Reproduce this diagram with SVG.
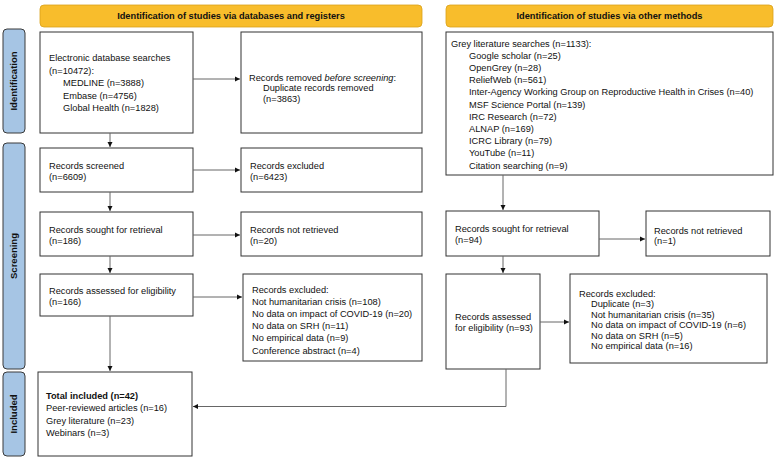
<svg xmlns="http://www.w3.org/2000/svg" width="776" height="460" viewBox="0 0 776 460">
<defs>
<marker id="ah" markerWidth="6" markerHeight="6" refX="5" refY="3" orient="auto" markerUnits="userSpaceOnUse">
<path d="M0,0.5 L5,3 L0,5.5 Z" fill="#111"/>
</marker>
<style>
text{font-family:"Liberation Sans",Arial,sans-serif;font-size:9.25px;fill:#111}
.hd{font-weight:bold;text-anchor:middle}
.side{font-weight:bold;text-anchor:middle;font-size:9.5px}
.box{fill:#fff;stroke:#333;stroke-width:1}
.hdr{fill:#f8bd2c;stroke:#d9a11a;stroke-width:0.8}
.sb{fill:#a6c5e4;stroke:#3a3a3a;stroke-width:1}
.con{fill:none;stroke:#666;stroke-width:1}
</style>
</defs>
<rect width="776" height="460" fill="#fff"/>

<g id="header-left"><rect class="hdr" x="40" y="5" width="382" height="22" rx="4"/><text class="hd" x="231" y="19.3">Identification of studies via databases and registers</text></g>
<g id="header-right"><rect class="hdr" x="446" y="5" width="327" height="22" rx="4"/><text class="hd" x="609.5" y="19.3">Identification of studies via other methods</text></g>

<g id="side-identification"><rect class="sb" x="3" y="29" width="22" height="104" rx="4"/><text class="side" transform="translate(17.3,81) rotate(-90)">Identification</text></g>
<g id="side-screening"><rect class="sb" x="3" y="143" width="22" height="226" rx="4"/><text class="side" transform="translate(17.3,256) rotate(-90)">Screening</text></g>
<g id="side-included"><rect class="sb" x="3" y="372" width="22" height="84" rx="4"/><text class="side" transform="translate(17.3,414) rotate(-90)">Included</text></g>

<g id="db-search"><rect class="box" x="40" y="32" width="153" height="101"/>
<text x="49" y="61.2">Electronic database searches</text>
<text x="49" y="73.7">(n=10472):</text>
<text x="63" y="86.2">MEDLINE (n=3888)</text>
<text x="63" y="98.7">Embase (n=4756)</text>
<text x="63" y="111.2">Global Health (n=1828)</text></g>

<g id="removed"><rect class="box" x="241" y="32" width="181" height="101"/>
<text x="249" y="80.5">Records removed <tspan font-style="italic">before screening</tspan>:</text>
<text x="263" y="91">Duplicate records removed</text>
<text x="263" y="101.5">(n=3863)</text></g>

<g id="screened"><rect class="box" x="40" y="148" width="153" height="44"/>
<text x="49" y="168.7">Records screened</text>
<text x="49" y="179.7">(n=6609)</text></g>

<g id="excluded1"><rect class="box" x="241" y="148" width="181" height="44"/>
<text x="250" y="168.7">Records excluded</text>
<text x="250" y="179.7">(n=6423)</text></g>

<g id="sought-left"><rect class="box" x="40" y="212" width="153" height="44"/>
<text x="49" y="233">Records sought for retrieval</text>
<text x="49" y="243.5">(n=186)</text></g>

<g id="notretrieved-left"><rect class="box" x="241" y="212" width="181" height="44"/>
<text x="250" y="233.3">Records not retrieved</text>
<text x="250" y="243.8">(n=20)</text></g>

<g id="assessed-left"><rect class="box" x="40" y="274" width="153" height="42"/>
<text x="49" y="293.7">Records assessed for eligibility</text>
<text x="49" y="304.7">(n=166)</text></g>

<g id="excluded-left"><rect class="box" x="243" y="274" width="179" height="87"/>
<text x="252" y="292.5">Records excluded:</text>
<text x="252" y="304.7">Not humanitarian crisis (n=108)</text>
<text x="252" y="316.9">No data on impact of COVID-19 (n=20)</text>
<text x="252" y="329.1">No data on SRH (n=11)</text>
<text x="252" y="341.3">No empirical data (n=9)</text>
<text x="252" y="353.5">Conference abstract (n=4)</text></g>

<g id="included"><rect class="box" x="38" y="372" width="154" height="84"/>
<text x="46" y="399.2" font-weight="bold">Total included (n=42)</text>
<text x="46" y="411.4">Peer-reviewed articles (n=16)</text>
<text x="46" y="423.6">Grey literature (n=23)</text>
<text x="46" y="435.8">Webinars (n=3)</text></g>

<g id="grey-lit"><rect class="box" x="446" y="32" width="327" height="143"/>
<text x="451" y="46.5">Grey literature searches (n=1133):</text>
<text x="469" y="58.7">Google scholar (n=25)</text>
<text x="469" y="70.9">OpenGrey (n=28)</text>
<text x="469" y="83.1">ReliefWeb (n=561)</text>
<text x="469" y="95.3">Inter-Agency Working Group on Reproductive Health in Crises (n=40)</text>
<text x="469" y="107.5">MSF Science Portal (n=139)</text>
<text x="469" y="119.7">IRC Research (n=72)</text>
<text x="469" y="131.9">ALNAP (n=169)</text>
<text x="469" y="144.1">ICRC Library (n=79)</text>
<text x="469" y="156.3">YouTube (n=11)</text>
<text x="469" y="168.5">Citation searching (n=9)</text></g>

<g id="sought-right"><rect class="box" x="446" y="211" width="153" height="45"/>
<text x="455" y="232.2">Records sought for retrieval</text>
<text x="455" y="242.5">(n=94)</text></g>

<g id="notretrieved-right"><rect class="box" x="646" y="211" width="124" height="45"/>
<text x="654" y="233.9">Records not retrieved</text>
<text x="654" y="243.9">(n=1)</text></g>

<g id="assessed-right"><rect class="box" x="446" y="274" width="94" height="95"/>
<text x="455" y="319.9">Records assessed</text>
<text x="455" y="330.5">for eligibility (n=93)</text></g>

<g id="excluded-right"><rect class="box" x="570" y="274" width="197" height="89"/>
<text x="579" y="296.7">Records excluded:</text>
<text x="591" y="307.2">Duplicate (n=3)</text>
<text x="591" y="317.7">Not humanitarian crisis (n=35)</text>
<text x="591" y="328.2">No data on impact of COVID-19 (n=6)</text>
<text x="591" y="338.7">No data on SRH (n=5)</text>
<text x="591" y="349.2">No empirical data (n=16)</text></g>

<g id="connectors">
<path class="con" d="M193,79 H240" marker-end="url(#ah)"/>
<path class="con" d="M110,133 V147" marker-end="url(#ah)"/>
<path class="con" d="M193,170 H240" marker-end="url(#ah)"/>
<path class="con" d="M110,192 V211" marker-end="url(#ah)"/>
<path class="con" d="M193,235 H240" marker-end="url(#ah)"/>
<path class="con" d="M110,256 V273" marker-end="url(#ah)"/>
<path class="con" d="M193,297 H242" marker-end="url(#ah)"/>
<path class="con" d="M110,316 V371" marker-end="url(#ah)"/>
<path class="con" d="M503,175 V210" marker-end="url(#ah)"/>
<path class="con" d="M599,239 H645" marker-end="url(#ah)"/>
<path class="con" d="M503,256 V273" marker-end="url(#ah)"/>
<path class="con" d="M540,322 H569" marker-end="url(#ah)"/>
<path class="con" d="M506,369 V406.5 H193" marker-end="url(#ah)"/>
</g>
</svg>
